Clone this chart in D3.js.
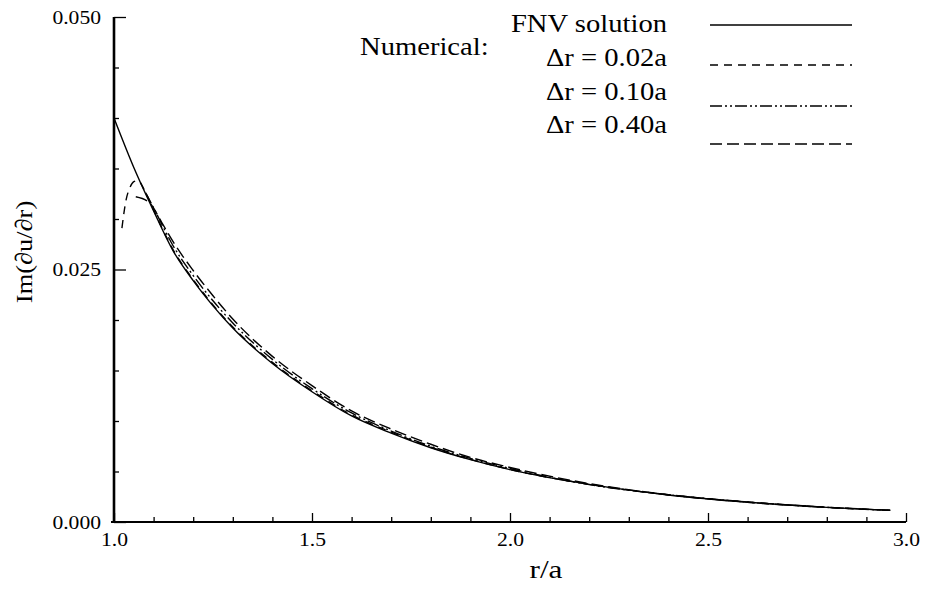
<!DOCTYPE html>
<html>
<head>
<meta charset="utf-8">
<script src="https://cdn.jsdelivr.net/npm/d3@7"></script>
<style>
  body { margin: 0; background: #fff; }
  text { font-family: "Liberation Serif", "Times New Roman", serif; fill: #000; }
</style>
</head>
<body>
<svg id="chart" width="929" height="589"></svg>
<script>
// values
var fnvR = [1.00, 1.05, 1.10, 1.15, 1.20, 1.25, 1.30, 1.40, 1.50, 1.60, 1.70, 1.80, 1.90, 2.00, 2.20, 2.40, 2.60, 2.80, 2.96];
var fnvValues = [0.0400, 0.0351, 0.0308, 0.0268, 0.0239, 0.0214, 0.0192, 0.0157, 0.0129, 0.0105, 0.0088, 0.00735, 0.00617, 0.00518, 0.00372, 0.00268, 0.00196, 0.00145, 0.00115];

var dr002R = [1.02, 1.03, 1.04, 1.05, 1.06, 1.08, 1.10, 1.15, 1.20, 1.25, 1.30, 1.40, 1.50, 1.60, 1.70, 1.80, 1.90, 2.00, 2.20, 2.40, 2.60, 2.80, 2.96];
var dr002Values = [0.0291, 0.0318, 0.0331, 0.0337, 0.0338, 0.0326, 0.0309, 0.0269, 0.0240, 0.0215, 0.0193, 0.0158, 0.0130, 0.0106, 0.0089, 0.0074, 0.0062, 0.0052, 0.00373, 0.00269, 0.00196, 0.00145, 0.00115];

var dr010R = [1.08, 1.10, 1.15, 1.20, 1.25, 1.30, 1.40, 1.50, 1.60, 1.70, 1.80, 1.90, 2.00, 2.20, 2.40, 2.60, 2.80, 2.96];
var dr010Values = [0.0326, 0.0311, 0.0273, 0.0244, 0.0219, 0.0197, 0.0161, 0.0132, 0.0108, 0.0090, 0.0075, 0.0063, 0.0053, 0.0037, 0.0027, 0.00197, 0.00145, 0.00115];

var dr040R = [1.055, 1.09, 1.12, 1.15, 1.20, 1.25, 1.30, 1.40, 1.50, 1.60, 1.70, 1.80, 1.90, 2.00, 2.20, 2.40, 2.60, 2.80, 2.96];
var dr040Values = [0.0322, 0.0316, 0.0297, 0.0277, 0.0249, 0.0224, 0.0201, 0.0164, 0.0135, 0.0110, 0.0092, 0.0077, 0.0064, 0.0054, 0.0038, 0.0027, 0.00198, 0.00146, 0.00116];

var xMajorTicks = [1.0, 1.5, 2.0, 2.5, 3.0];
var xMinorTicks = [1.1, 1.2, 1.3, 1.4, 1.6, 1.7, 1.8, 1.9, 2.1, 2.2, 2.3, 2.4, 2.6, 2.7, 2.8, 2.9];
var yMajorTicks = [0.000, 0.025, 0.050];
var yMinorTicks = [0.005, 0.010, 0.015, 0.020, 0.030, 0.035, 0.040, 0.045];

var legendLabels = ["FNV solution", "\u0394r = 0.02a", "\u0394r = 0.10a", "\u0394r = 0.40a"];
var legendDashes = [null, "8,6", "12,3,2,3,2,3", "12,5"];

var svg = d3.select("#chart");

var x = d3.scaleLinear().domain([1, 3]).range([114, 906]);
var y = d3.scaleLinear().domain([0, 0.05]).range([522, 17]);

// glyphs in the picture are a little wider than Liberation Serif
var stretch = function(sel, k) {
  sel.each(function() {
    var w = this.getComputedTextLength();
    d3.select(this).attr("textLength", w * k).attr("lengthAdjust", "spacingAndGlyphs");
  });
};

var toPoints = function(rs, vs) { return rs.map((r, i) => ({ r: r, v: vs[i] })); };

var line = d3.line()
  .x(d => x(d.r))
  .y(d => y(d.v))
  .curve(d3.curveMonotoneX);

var series = [
  { pts: toPoints(dr040R, dr040Values), dash: legendDashes[3] },
  { pts: toPoints(dr010R, dr010Values), dash: legendDashes[2] },
  { pts: toPoints(dr002R, dr002Values), dash: legendDashes[1] },
  { pts: toPoints(fnvR, fnvValues), dash: legendDashes[0] }
];

series.forEach(function(s) {
  svg.append("path")
    .attr("fill", "none")
    .attr("stroke", "#000")
    .attr("stroke-width", 1.4)
    .attr("stroke-dasharray", s.dash)
    .attr("d", line(s.pts));
});

// minor ticks first, then major axes with labels
svg.append("g")
    .attr("transform", "translate(0,522)")
    .call(d3.axisBottom(x).tickValues(xMinorTicks).tickSize(-5).tickSizeOuter(0).tickFormat(""))
    .call(g => g.select(".domain").remove());

svg.append("g")
    .attr("transform", "translate(114,0)")
    .call(d3.axisLeft(y).tickValues(yMinorTicks).tickSize(-5).tickSizeOuter(0).tickFormat(""))
    .call(g => g.select(".domain").remove());

var xAxis = svg.append("g")
    .attr("transform", "translate(0,522)")
    .call(d3.axisBottom(x).tickValues(xMajorTicks).tickSize(-9).tickSizeOuter(0).tickPadding(15).tickFormat(d3.format(".1f")));

var yAxis = svg.append("g")
    .attr("transform", "translate(114,0)")
    .call(d3.axisLeft(y).tickValues(yMajorTicks).tickSize(-12).tickSizeOuter(0).tickPadding(13).tickFormat(d3.format(".3f")));

svg.selectAll(".tick line").attr("stroke", "#000").attr("stroke-width", 1.3);
xAxis.select(".domain").attr("stroke-width", 2.2).attr("d", "M111,0H906");
yAxis.select(".domain").attr("stroke-width", 2.6).attr("d", "M0,17V523");

svg.selectAll(".tick text")
  .attr("font-size", 18)
  .attr("font-family", "Liberation Serif, Times New Roman, serif");

xAxis.selectAll(".tick text")
  .attr("dy", "0.5em")
  .call(stretch, 1.2);

yAxis.selectAll(".tick text")
  .attr("dy", "0.35em")
  .call(stretch, 1.2);

svg.append("text")
  .attr("x", 546)
  .attr("y", 578)
  .attr("text-anchor", "middle")
  .attr("font-size", 25)
  .text("r/a")
  .call(stretch, 1.25);

svg.append("text")
  .attr("transform", "translate(32,252) rotate(-90)")
  .attr("text-anchor", "middle")
  .attr("font-size", 24)
  .text("Im(\u2202u/\u2202r)")
  .call(stretch, 1.1);

// legend
var legendTextY = [32, 66, 100, 133];
var legendLineY = [25, 65, 106, 144];

legendLabels.forEach(function(label, i) {
  svg.append("text")
    .attr("x", 667)
    .attr("y", legendTextY[i])
    .attr("text-anchor", "end")
    .attr("font-size", 26)
    .text(label)
    .call(stretch, 1.1);

  svg.append("line")
    .attr("x1", 710)
    .attr("x2", 852)
    .attr("y1", legendLineY[i])
    .attr("y2", legendLineY[i])
    .attr("stroke", "#000")
    .attr("stroke-width", 1.4)
    .attr("stroke-dasharray", legendDashes[i]);
});

svg.append("text")
  .attr("x", 360)
  .attr("y", 55)
  .attr("font-size", 26)
  .text("Numerical:")
  .call(stretch, 1.1);
</script>
</body>
</html>
